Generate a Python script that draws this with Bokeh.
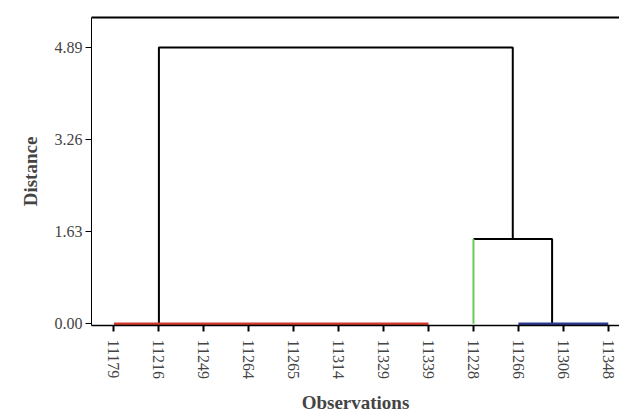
from bokeh.plotting import figure
from bokeh.models import Range1d, LinearAxis, FixedTicker, ColumnDataSource, PrintfTickFormatter
from bokeh.embed import file_html
from bokeh.resources import INLINE

# leaves (in dendrogram order)
leaves = ["11179", "11216", "11249", "11264", "11265", "11314", "11329", "11339",
          "11228", "11266", "11306", "11348"]
y_ticks = [0.00, 1.63, 3.26, 4.89]

# cluster memberships (leaf index spans) at height 0
cluster_red = (0, 7)      # 11179 .. 11339
cluster_green = (8, 8)    # 11228
cluster_blue = (9, 11)    # 11266 .. 11348

# merge heights
h_bc = 1.50               # green + blue merge
h_all = 4.89              # red + (green,blue) merge
# node anchor positions (in leaf units)
node_red = 1.0
node_green = 8.0
node_blue = 9.75

node_bc = (node_green + node_blue) / 2

FONT = "Liberation Serif"

p = figure(width=619, height=415, output_backend="svg", toolbar_location=None,
           x_range=Range1d(-0.5, 11.25), y_range=Range1d(-0.03, 5.42),
           min_border_left=91, min_border_right=0, min_border_top=17, min_border_bottom=10)
p.outline_line_color = None
p.grid.visible = False
p.background_fill_color = "white"

# dendrogram black links
black = ColumnDataSource(dict(
    xs=[[node_red, node_red, node_bc, node_bc],
        [node_green, node_green, node_blue, node_blue]],
    ys=[[0, h_all, h_all, h_bc],
        [h_bc, h_bc, h_bc, 0]],
))
p.multi_line("xs", "ys", source=black, line_color="black", line_width=2)

# green leaf vertical
p.line([node_green, node_green], [0, h_bc], line_color="#66cc55", line_width=2)
# red cluster at height zero
p.line([cluster_red[0], cluster_red[1]], [0, 0], line_color="#d33a2c", line_width=2.5)
# blue cluster at height zero
p.line([cluster_blue[0], cluster_blue[1]], [0, 0], line_color="#2b3a8f", line_width=2.5)

# axes styling
xa = p.xaxis[0]
xa.ticker = FixedTicker(ticks=list(range(len(leaves))))
xa.major_label_overrides = {i: s for i, s in enumerate(leaves)}
xa.major_label_orientation = "vertical"
xa.minor_tick_line_color = None
xa.major_tick_in = 0
xa.major_tick_out = 6
xa.major_tick_line_width = 2
xa.axis_line_width = 1.5
xa.axis_label = "Observations"
xa.axis_label_text_font = FONT
xa.axis_label_text_font_style = "bold"
xa.axis_label_text_font_size = "19px"
xa.axis_label_standoff = 10
xa.major_label_text_font = FONT
xa.major_label_text_font_size = "16px"
xa.major_label_standoff = 8

ya = p.yaxis[0]
ya.ticker = FixedTicker(ticks=y_ticks)
ya.formatter = PrintfTickFormatter(format="%.2f")
ya.minor_tick_line_color = None
ya.major_tick_in = 0
ya.major_tick_out = 6
ya.axis_line_width = 1
ya.axis_label = "Distance"
ya.axis_label_text_font = FONT
ya.axis_label_text_font_style = "bold"
ya.axis_label_text_font_size = "19px"
ya.axis_label_standoff = 11
ya.major_label_text_font = FONT
ya.major_label_text_font_size = "16px"
ya.major_label_standoff = 3

# top border line as an empty axis
top = LinearAxis(ticker=FixedTicker(ticks=[]), major_tick_out=0, major_tick_in=0,
                 minor_tick_line_color=None, major_label_text_font_size="0px",
                 major_label_standoff=0, axis_line_width=2)
p.add_layout(top, "above")

open("out.html", "w").write(file_html(p, INLINE))
